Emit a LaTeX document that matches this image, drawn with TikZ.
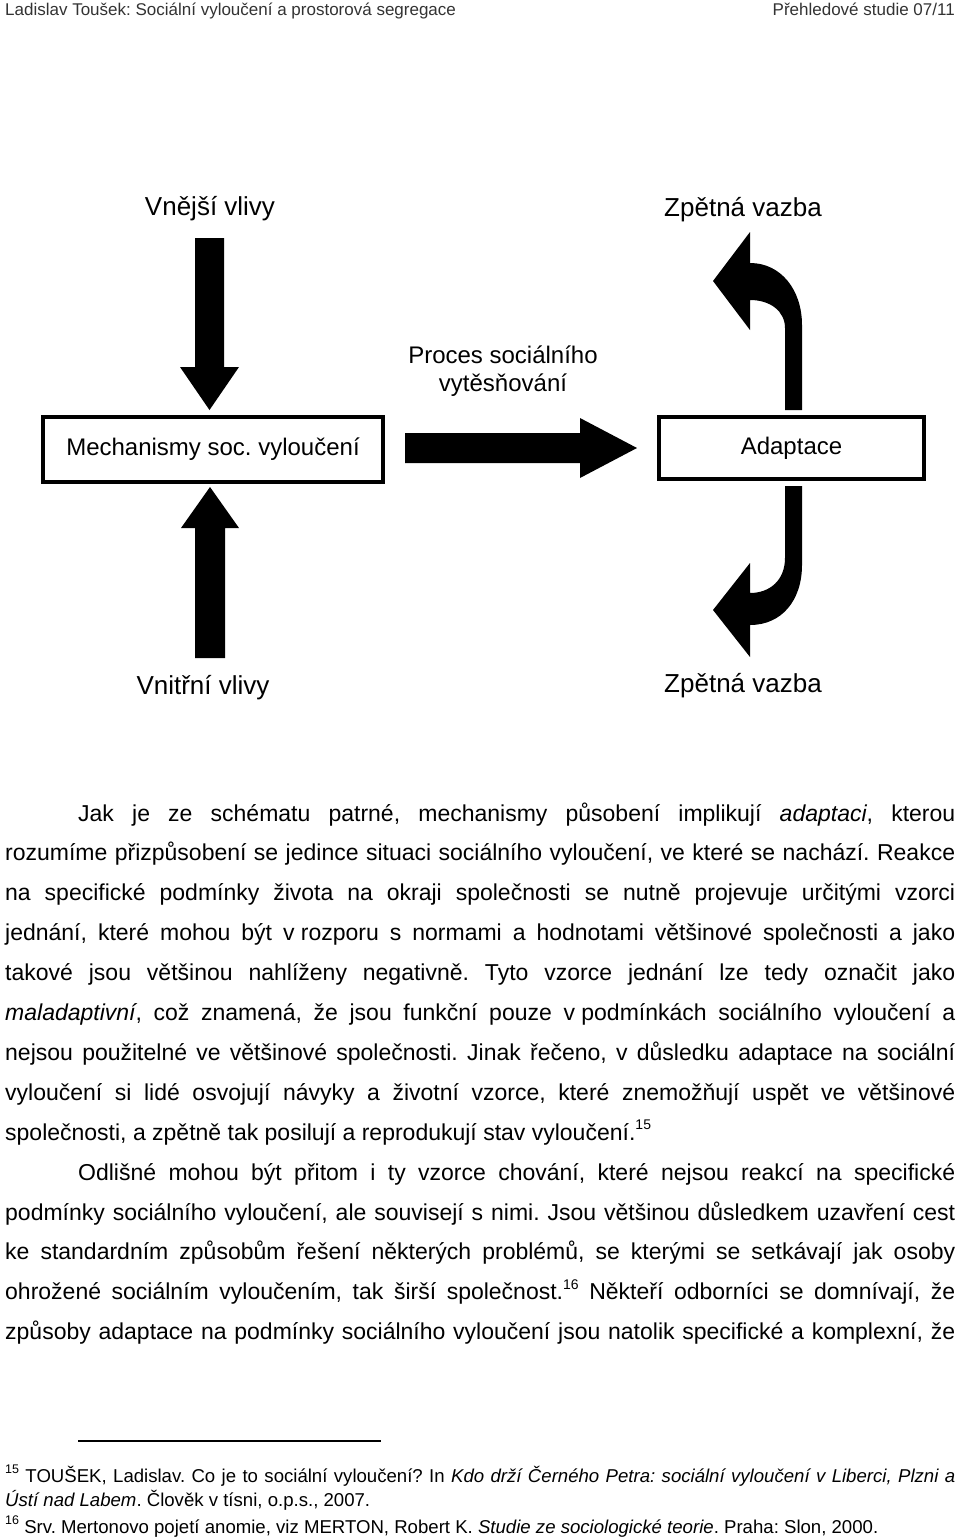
\documentclass[tikz,border=0pt]{standalone}
\usepackage{fontspec}
\setmainfont{Liberation Sans}
\frenchspacing
\definecolor{hdr}{gray}{0.2}
\newcommand{\bodyfont}{\fontsize{23}{28}\selectfont}
\newcommand{\fnfont}{\fontsize{18.6}{22}\selectfont}
\newcommand{\supf}[1]{\raisebox{0.45em}{\fontsize{14}{16}\selectfont #1}}
\newcommand{\fnsup}[1]{\raisebox{0.45em}{\fontsize{12.5}{14}\selectfont #1}}
\tikzset{
  boxnode/.style={draw, line width=3.5pt, rectangle, inner sep=0pt, font=\fontsize{24}{28}\selectfont},
  lbl/.style={font=\fontsize{26}{30}\selectfont, inner sep=0pt, anchor=base},
  proc/.style={font=\fontsize{24}{30}\selectfont, inner sep=0pt, anchor=base},
  blockarrow/.style={fill=black, draw=none},
  bodyline/.style={anchor=base west, inner sep=0pt, font=\bodyfont},
  fnline/.style={anchor=base west, inner sep=0pt, font=\fnfont},
  hdrline/.style={inner sep=0pt, text=hdr, font=\fontsize{17}{20}\selectfont},
}
\newcommand{\jl}[4]{\node[bodyline] (#1) at (#2) {\makebox[#3][s]{#4}};}
\begin{document}
\begin{tikzpicture}[x=1pt,y=-1pt]
\fill[white] (0,0) rectangle (960,1537);
\useasboundingbox (0,0) rectangle (960,1537);

% header
\node[hdrline, anchor=base west] (h1) at (5,15.5) {Ladislav Toušek: Sociální vyloučení a prostorová segregace};
\node[hdrline, anchor=base east] (h2) at (955,15.5) {Přehledové studie 07/11};

% diagram boxes
\node[boxnode, minimum width=340pt, minimum height=65pt] (mech) at (213,449.5) {Mechanismy soc. vyloučení};
\node[boxnode, minimum width=265pt, minimum height=62pt] (adapt) at (791.5,448) {Adaptace};

% labels
\node[lbl] (vnejsi) at (210,215) {Vnější vlivy};
\node[lbl] (vnitrni) at (203,694) {Vnitřní vlivy};
\node[lbl] (zv1) at (743,216) {Zpětná vazba};
\node[lbl] (zv2) at (743,692) {Zpětná vazba};
\node[proc] (proc1) at (503,363) {Proces sociálního};
\node[proc] (proc2) at (503,391) {vytěsňování};

% block arrows
\coordinate (dtop) at (209.5,238);
\coordinate (ubot) at (210,658);
\fill[blockarrow] (dtop) ++(-14.5,0) -- ++(29,0) -- (224,367) -- (239,367) -- (209.5,410) -- (180,367) -- (195,367) -- cycle;
\fill[blockarrow] (ubot) ++(-15,0) -- ++(30,0) -- (225,528) -- (239,528) -- (210,487) -- (181,528) -- (195,528) -- cycle;
\fill[blockarrow] (405,433) -- (580,433) -- (580,418) -- (637,448) -- (580,478) -- (580,463) -- (405,463) -- cycle;

% curved arrows
\fill[blockarrow] (785,410) -- (785,328) .. controls (785,311) and (770,300) .. (750,300) -- (750,330) -- (713,281) -- (750,232) -- (750,263) .. controls (781,263) and (802,290) .. (802,325) -- (802,410) -- cycle;
\fill[blockarrow] (785,486) -- (785,558) .. controls (785,580) and (770,593) .. (750,593) -- (750,563) -- (713,610) -- (750,657) -- (750,625) .. controls (782,625) and (802,600) .. (802,565) -- (802,486) -- cycle;

% body text
\jl{l1}{78,821}{877pt}{Jak je ze schématu patrné, mechanismy působení implikují \textit{adaptaci}, kterou}
\jl{l2}{5,860.9}{950pt}{rozumíme přizpůsobení se jedince situaci sociálního vyloučení, ve které se nachází. Reakce}
\jl{l3}{5,900.8}{950pt}{na specifické podmínky života na okraji společnosti se nutně projevuje určitými vzorci}
\jl{l4}{5,940.7}{950pt}{jednání, které mohou být \mbox{v rozporu} s normami a hodnotami většinové společnosti a jako}
\jl{l5}{5,980.6}{950pt}{takové jsou většinou nahlíženy negativně. Tyto vzorce jednání lze tedy označit jako}
\jl{l6}{5,1020.5}{950pt}{\textit{maladaptivní}, což znamená, že jsou funkční pouze \mbox{v podmínkách} sociálního vyloučení a}
\jl{l7}{5,1060.4}{950pt}{nejsou použitelné ve většinové společnosti. Jinak řečeno, v důsledku adaptace na sociální}
\jl{l8}{5,1100.3}{950pt}{vyloučení si lidé osvojují návyky a životní vzorce, které znemožňují uspět ve většinové}
\node[bodyline] (l9) at (5,1140.2) {společnosti, a zpětně tak posilují a reprodukují stav vyloučení.\supf{15}};
\jl{l10}{78,1180.1}{877pt}{Odlišné mohou být přitom i ty vzorce chování, které nejsou reakcí na specifické}
\jl{l11}{5,1220}{950pt}{podmínky sociálního vyloučení, ale souvisejí s nimi. Jsou většinou důsledkem uzavření cest}
\jl{l12}{5,1259.9}{950pt}{ke standardním způsobům řešení některých problémů, se kterými se setkávají jak osoby}
\jl{l13}{5,1299.8}{950pt}{ohrožené sociálním vyloučením, tak širší společnost.\supf{16} Někteří odborníci se domnívají, že}
\jl{l14}{5,1339.7}{950pt}{způsoby adaptace na podmínky sociálního vyloučení jsou natolik specifické a komplexní, že}

% footnotes
\coordinate (rulel) at (78,1441);
\coordinate (ruler) at (381,1441);
\draw[line width=1.3pt] (rulel) -- (ruler);
\node[fnline] (fn1) at (5,1482) {\makebox[950pt][s]{\fnsup{15} TOUŠEK, Ladislav. Co je to sociální vyloučení? In \textit{Kdo drží Černého Petra: sociální vyloučení v Liberci, Plzni a}}};
\node[fnline] (fn2) at (5,1506) {\textit{Ústí nad Labem}. Člověk \mbox{v tísni}, o.p.s., 2007.};
\node[fnline] (fn3) at (5,1533) {\fnsup{16} Srv. Mertonovo pojetí anomie, viz MERTON, Robert K. \textit{Studie ze sociologické teorie}. Praha: Slon, 2000.};
\end{tikzpicture}
\end{document}
